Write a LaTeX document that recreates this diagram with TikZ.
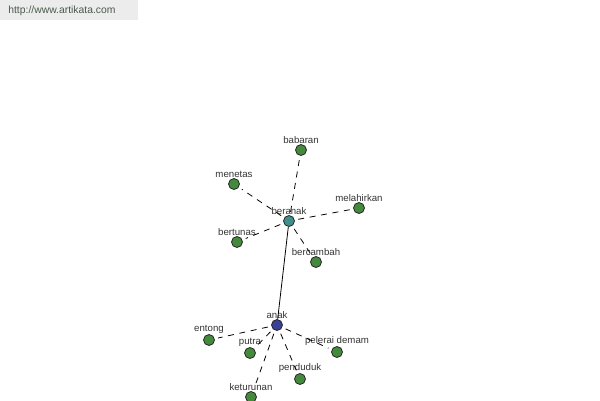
\documentclass[tikz,border=0pt]{standalone}
\usepackage{fontspec}
\setmainfont{Liberation Sans}
\definecolor{leafgreen}{HTML}{448A3C}
\definecolor{hubteal}{HTML}{3F8F8F}
\definecolor{hubblue}{HTML}{3B4097}
\definecolor{urlgray}{HTML}{ECECEC}
\definecolor{urltext}{HTML}{4A5A4A}
\begin{document}
\begin{tikzpicture}[x=0.02cm, y=-0.02cm]

\tikzstyle{word}=[circle, draw=black!85, inner sep=0pt, minimum size=11*0.02cm, line width=0.45pt]
\tikzstyle{leaf}=[word, fill=leafgreen]
\tikzstyle{tag}=[font=\fontsize{5.5}{6}\selectfont, text=black!80, inner sep=1pt]
\tikzstyle{link}=[dash pattern=on 3.4pt off 3.2pt, line width=0.45pt, shorten >=2pt, shorten <=2pt]
\tikzstyle{stem}=[line width=0.45pt]

\useasboundingbox (0,0) rectangle (600,400);
\fill[urlgray] (0,0) rectangle (138,20);
\node (url) [anchor=west, font=\fontsize{5.9}{7}\selectfont, text=urltext, inner sep=0pt] at (8,11) {http://www.artikata.com};

% first cluster
\node (beranak) [word, fill=hubteal, label={[tag, label distance=-1pt]above:beranak}] at (289,221) {};
\node (babaran) [leaf, label={[tag, label distance=-1pt]above:babaran}] at (301,150) {};
\node (menetas) [leaf, label={[tag, label distance=-1pt]above:menetas}] at (234,184) {};
\node (melahirkan) [leaf, label={[tag, label distance=-1pt]above:melahirkan}] at (359,208) {};
\node (bertunas) [leaf, label={[tag, label distance=-1pt]above:bertunas}] at (237,242) {};
\node (bercambah) [leaf, label={[tag, label distance=-1pt]above:bercambah}] at (316,262) {};

% second cluster
\node (anak) [word, fill=hubblue, label={[tag, label distance=-1pt]above:anak}] at (277,325) {};
\node (entong) [leaf, label={[tag, label distance=-1pt]above:entong}] at (209,340) {};
\node (putra) [leaf, label={[tag, label distance=-1pt]above:putra}] at (250,353) {};
\node (pelerai) [leaf, label={[tag, label distance=-1pt]above:pelerai demam}] at (337,352) {};
\node (penduduk) [leaf, label={[tag, label distance=-1pt]above:penduduk}] at (300,379) {};
\node (keturunan) [leaf, label={[tag, label distance=-1pt]above:keturunan}] at (251,397) {};

\draw [stem] (beranak) -- (anak);

\draw [link] (beranak) -- (babaran);
\draw [link] (beranak) -- (menetas);
\draw [link] (beranak) -- (melahirkan);
\draw [link] (beranak) -- (bertunas);
\draw [link] (beranak) -- (bercambah);

\draw [link] (anak) -- (entong);
\draw [link] (anak) -- (putra);
\draw [link] (anak) -- (pelerai);
\draw [link] (anak) -- (penduduk);
\draw [link] (anak) -- (keturunan);

\end{tikzpicture}
\end{document}
